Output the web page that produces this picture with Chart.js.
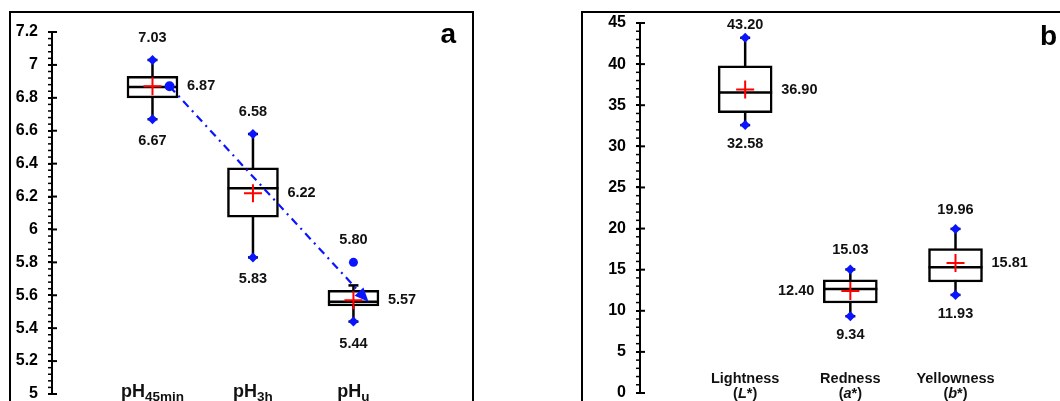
<!DOCTYPE html>
<html>
<head>
<meta charset="utf-8">
<script src="https://cdn.jsdelivr.net/npm/chart.js@4/dist/chart.umd.min.js"></script>
<style>
  html, body { margin: 0; padding: 0; background: #fff; width: 1060px; height: 401px; overflow: hidden; }
  #wrapA { position: absolute; left: 0; top: 0; width: 480px; height: 440px; }
  #wrapB { position: absolute; left: 570px; top: 0; width: 490px; height: 440px; }
</style>
</head>
<body>
<div id="wrapA"><canvas id="chartA"></canvas></div>
<div id="wrapB"><canvas id="chartB"></canvas></div>
<script>
// panel a : pH
const phCatMain = ["pH", "pH", "pH"];
const phCatSub = ["45min", "3h", "u"];
const phMin = [6.67, 5.83, 5.44];
const phQ1 = [6.80, 6.075, 5.535];
const phMedian = [6.865, 6.25, 5.56];
const phQ3 = [6.93, 6.375, 5.63];
const phMax = [7.03, 6.58, 5.66];
const phMean = [6.87, 6.22, 5.57];
const phOutlier = [null, null, 5.80];
const phTicks = [5, 5.2, 5.4, 5.6, 5.8, 6, 6.2, 6.4, 6.6, 6.8, 7, 7.2];
const phTrendX = [0.17, 2.15];
const phTrendY = [6.87, 5.56];

// panel b : colour
const colCats = ["Lightness", "Redness", "Yellowness"];
const colSymbols = ["L", "a", "b"];
const colMin = [32.58, 9.34, 11.93];
const colQ1 = [34.1, 10.95, 13.5];
const colMedian = [36.55, 12.65, 15.3];
const colQ3 = [39.8, 13.75, 17.55];
const colMax = [43.20, 15.03, 19.96];
const colMean = [36.90, 12.40, 15.81];
const colOutlier = [null, null, null];
const colTicks = [0, 5, 10, 15, 20, 25, 30, 35, 40, 45];

const FONT = "'Liberation Sans', Arial, Helvetica, sans-serif";
const BLUE = "#0a14ff";
const LW = 2.5;

function line(ctx, x1, y1, x2, y2) {
  ctx.beginPath();
  ctx.moveTo(x1, y1);
  ctx.lineTo(x2, y2);
  ctx.stroke();
}

const boxDeco = {
  id: "boxDeco",
  beforeDatasetsDraw(chart, args, o) {
    const { ctx, scales: { x, y } } = chart;
    ctx.save();
    ctx.strokeStyle = "#000";
    ctx.lineWidth = LW;
    o.min.forEach((lo, i) => {
      const px = x.getPixelForValue(i);
      const top = y.getPixelForValue(o.max[i]);
      const bot = y.getPixelForValue(lo);
      line(ctx, px, top, px, bot);
      line(ctx, px - o.cap, top, px + o.cap, top);
      line(ctx, px - o.cap, bot, px + o.cap, bot);
    });
    ctx.restore();
  },
  afterDatasetDraw(chart, args, o) {
    if (chart.data.datasets[args.index].kind !== "box") return;
    const ctx = chart.ctx, y = chart.scales.y;
    ctx.save();
    ctx.strokeStyle = "#000";
    ctx.lineWidth = LW;
    args.meta.data.forEach((bar, i) => {
      const py = y.getPixelForValue(o.median[i]);
      line(ctx, bar.x - bar.width / 2, py, bar.x + bar.width / 2, py);
    });
    ctx.restore();
  },
  afterDatasetsDraw(chart) {
    // arrow head on the trend line
    const ctx = chart.ctx;
    chart.data.datasets.forEach((ds, di) => {
      if (ds.kind !== "trend") return;
      const pts = chart.getDatasetMeta(di).data;
      const a = pts[pts.length - 2], b = pts[pts.length - 1];
      const ang = Math.atan2(b.y - a.y, b.x - a.x);
      const len = 14, half = 6;
      ctx.save();
      ctx.fillStyle = BLUE;
      ctx.translate(b.x, b.y);
      ctx.rotate(ang);
      ctx.beginPath();
      ctx.moveTo(0, 0);
      ctx.lineTo(-len, -half);
      ctx.lineTo(-len, half);
      ctx.closePath();
      ctx.fill();
      ctx.restore();
    });
  },
  afterDraw(chart, args, o) {
    const { ctx, chartArea: ca, scales: { x, y } } = chart;
    ctx.save();
    // frame
    ctx.strokeStyle = "#000";
    ctx.lineWidth = 2;
    ctx.strokeRect(o.frame[0], o.frame[1], o.frame[2], o.frame[3]);
    // minor ticks and inner half of major ticks
    const ax = ca.left;
    ctx.lineWidth = 1.5;
    for (let v = y.min; v <= y.max + 1e-9; v += o.minorStep) {
      const py = y.getPixelForValue(v);
      line(ctx, ax - 4, py, ax, py);
    }
    ctx.lineWidth = 2;
    y.ticks.forEach(t => {
      const py = y.getPixelForValue(t.value);
      line(ctx, ax, py, ax + 5, py);
    });
    // value labels
    ctx.fillStyle = "#111";
    ctx.font = "bold 14.5px " + FONT;
    ctx.textBaseline = "middle";
    o.min.forEach((lo, i) => {
      const px = x.getPixelForValue(i);
      const hi = o.outlier[i] != null ? o.outlier[i] : o.max[i];
      ctx.textAlign = "center";
      const ty = Math.max(y.getPixelForValue(hi) - o.gap, ca.top + 2);
      ctx.fillText(hi.toFixed(2), px, ty);
      ctx.fillText(lo.toFixed(2), px, y.getPixelForValue(lo) + o.gap);
      const my = y.getPixelForValue(o.mean[i]);
      if (o.meanSide[i] === "left") {
        ctx.textAlign = "right";
        ctx.fillText(o.mean[i].toFixed(2), px - o.boxWidth / 2 - o.meanGap, my);
      } else {
        ctx.textAlign = "left";
        ctx.fillText(o.mean[i].toFixed(2), px + o.boxWidth / 2 + o.meanGap, my);
      }
    });
    // category labels
    ctx.textBaseline = "alphabetic";
    o.cats.forEach((c, i) => {
      const px = x.getPixelForValue(i);
      if (o.catMode === "sub") {
        const fm = "bold 18px " + FONT, fs = "bold 13.5px " + FONT;
        ctx.font = fm;
        const w1 = ctx.measureText(c).width;
        ctx.font = fs;
        const w2 = ctx.measureText(o.catSub[i]).width;
        const x0 = px - (w1 + w2) / 2;
        ctx.textAlign = "left";
        ctx.font = fm;
        ctx.fillText(c, x0, ca.bottom + 3);
        ctx.font = fs;
        ctx.fillText(o.catSub[i], x0 + w1, ca.bottom + 7);
      } else {
        const f = "bold 14.5px " + FONT, fi = "italic bold 14.5px " + FONT;
        ctx.font = f;
        ctx.textAlign = "center";
        ctx.fillText(c, px, ca.bottom - 10);
        const p1 = "(", p2 = o.catSub[i], p3 = "*)";
        const w1 = ctx.measureText(p1).width, w3 = ctx.measureText(p3).width;
        ctx.font = fi;
        const w2 = ctx.measureText(p2).width;
        const cx = px - (w1 + w2 + w3) / 2;
        ctx.textAlign = "left";
        ctx.font = f;
        ctx.fillText(p1, cx, ca.bottom + 5);
        ctx.font = fi;
        ctx.fillText(p2, cx + w1, ca.bottom + 5);
        ctx.font = f;
        ctx.fillText(p3, cx + w1 + w2, ca.bottom + 5);
      }
    });
    // panel letter
    ctx.font = "bold 28px " + FONT;
    ctx.textAlign = "right";
    ctx.fillStyle = "#000";
    ctx.fillText(o.letter, o.letterPos[0], o.letterPos[1]);
    ctx.restore();
  }
};

function makeChart(id, d) {
  const idx = d.min.map((v, i) => i);
  const datasets = [
    {
      kind: "box",
      type: "bar",
      data: idx.map(i => ({ x: i, y: [d.q1[i], d.q3[i]] })),
      backgroundColor: "#fff",
      borderColor: "#000",
      borderWidth: LW,
      borderSkipped: false,
      barThickness: d.boxWidth,
      grouped: false,
      order: 10
    },
    {
      type: "scatter",
      data: idx.filter(i => d.outlier[i] == null).map(i => ({ x: i, y: d.max[i] }))
        .concat(idx.map(i => ({ x: i, y: d.min[i] }))),
      pointStyle: "rectRot",
      pointRadius: 5,
      backgroundColor: BLUE,
      borderWidth: 0,
      order: 3
    },
    {
      type: "scatter",
      data: idx.filter(i => d.outlier[i] != null).map(i => ({ x: i, y: d.outlier[i] })),
      pointStyle: "circle",
      pointRadius: 4.5,
      backgroundColor: BLUE,
      borderWidth: 0,
      order: 3
    },
    {
      type: "scatter",
      data: idx.map(i => ({ x: i, y: d.mean[i] })),
      pointStyle: "cross",
      pointRadius: 9,
      borderColor: "#ff0000",
      borderWidth: 2,
      order: 1
    }
  ];
  if (d.trendX) {
    datasets.push({
      kind: "trend",
      type: "line",
      data: d.trendX.map((v, i) => ({ x: v, y: d.trendY[i] })),
      borderColor: BLUE,
      borderWidth: 2.2,
      borderDash: [8, 5, 2, 5],
      pointRadius: [5, 0],
      pointBackgroundColor: BLUE,
      pointBorderWidth: 0,
      order: 5
    });
  }
  return new Chart(document.getElementById(id), {
    type: "bar",
    data: { datasets },
    options: {
      responsive: true,
      maintainAspectRatio: false,
      devicePixelRatio: 1,
      animation: false,
      events: [],
      layout: { padding: d.padding },
      scales: {
        x: { type: "linear", min: -1, max: d.xMax, offset: false, display: false },
        y: {
          min: d.ticks[0],
          max: d.ticks[d.ticks.length - 1],
          afterFit: s => { s.width = d.axisWidth; },
          afterBuildTicks: s => { s.ticks = d.ticks.map(v => ({ value: v })); },
          border: { display: true, color: "#000", width: 2 },
          grid: { display: true, drawOnChartArea: false, drawTicks: true, tickLength: 4, color: "#000", lineWidth: 2 },
          ticks: {
            color: "#000",
            padding: 10,
            font: { family: FONT, size: 16, weight: "bold" },
            callback: v => String(+Number(v).toFixed(1))
          }
        }
      },
      plugins: {
        legend: { display: false },
        tooltip: { enabled: false },
        boxDeco: {
          min: d.min, max: d.max, median: d.median, mean: d.mean, outlier: d.outlier,
          cats: d.cats, catSub: d.catSub, catMode: d.catMode,
          cap: 5, gap: d.gap, meanGap: d.meanGap, meanSide: d.meanSide, boxWidth: d.boxWidth,
          minorStep: d.minorStep, frame: d.frame, letter: d.letter, letterPos: d.letterPos
        }
      }
    },
    plugins: [boxDeco]
  });
}

makeChart("chartA", {
  min: phMin, q1: phQ1, median: phMedian, q3: phQ3, max: phMax, mean: phMean, outlier: phOutlier,
  ticks: phTicks, cats: phCatMain, catSub: phCatSub, catMode: "sub",
  trendX: phTrendX, trendY: phTrendY,
  boxWidth: 51, xMax: 3.15, axisWidth: 42, minorStep: 0.04,
  padding: { left: 10, top: 32, right: 7, bottom: 46 },
  gap: 22, meanGap: 9, meanSide: ["right", "right", "right"],
  frame: [10, 12, 463, 600], letter: "a", letterPos: [456, 43]
});

makeChart("chartB", {
  min: colMin, q1: colQ1, median: colMedian, q3: colQ3, max: colMax, mean: colMean, outlier: colOutlier,
  ticks: colTicks, cats: colCats, catSub: colSymbols, catMode: "twoLine",
  boxWidth: 54, xMax: 2.889, axisWidth: 58, minorStep: 1,
  padding: { left: 12, top: 23, right: 0, bottom: 47 },
  gap: 19, meanGap: 9, meanSide: ["right", "left", "right"],
  frame: [12, 12, 600, 600], letter: "b", letterPos: [487, 45]
});
</script>
</body>
</html>
